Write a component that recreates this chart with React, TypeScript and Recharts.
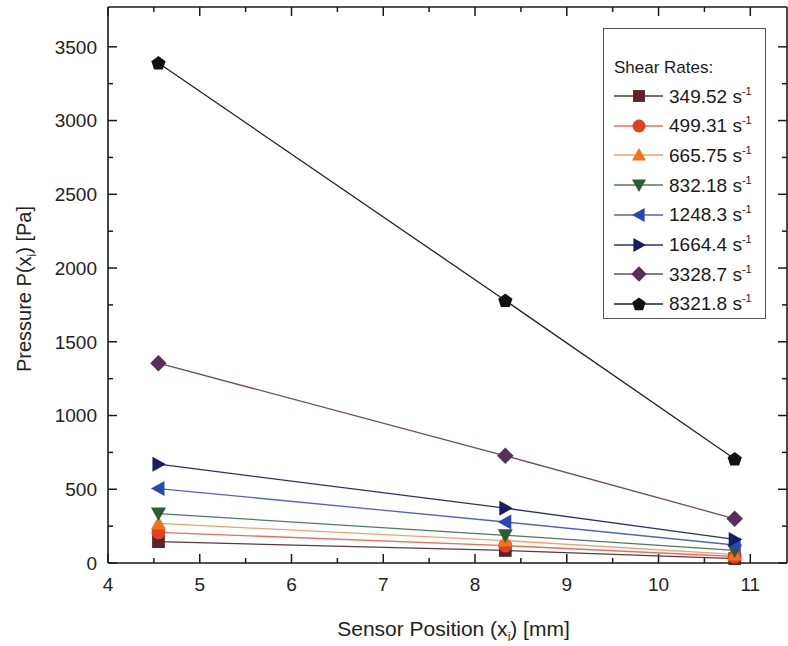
import { LineChart, Line, XAxis, YAxis, ReferenceLine } from "recharts";

const positions = [4.55, 8.33, 10.83];

// pressure [Pa] at each sensor position, one array per shear rate
const rate349 = [145, 85, 30];
const rate499 = [208, 118, 44];
const rate665 = [268, 152, 58];
const rate832 = [335, 188, 85];
const rate1248 = [505, 278, 122];
const rate1664 = [670, 372, 160];
const rate3328 = [1355, 727, 300];
const rate8321 = [3390, 1780, 705];

const rateLabels = ["349.52", "499.31", "665.75", "832.18", "1248.3", "1664.4", "3328.7", "8321.8"];

const xTicks = [4, 4.5, 5, 5.5, 6, 6.5, 7, 7.5, 8, 8.5, 9, 9.5, 10, 10.5, 11];
const yTicks = [0, 250, 500, 750, 1000, 1250, 1500, 1750, 2000, 2250, 2500, 2750, 3000, 3250, 3500];

const X_MIN = 4;
const X_MAX = 11.4;
const Y_MIN = 0;
const Y_MAX = 3770;

const FONT = "'Liberation Sans', Arial, sans-serif";
const AXIS = "#1a1a1a";
// inward tick lengths in data units (about 9px / 5px)
const TX_MAJOR = 61;
const TX_MINOR = 34;
const TY_MAJOR = 0.098;
const TY_MINOR = 0.055;

type Shape = "square" | "circle" | "up" | "down" | "left" | "right" | "diamond" | "pentagon";

const series: { key: string; values: number[]; shape: Shape; fill: string; line: string }[] = [
  { key: "r349", values: rate349, shape: "square", fill: "#5b2426", line: "#5b3a3c" },
  { key: "r499", values: rate499, shape: "circle", fill: "#e2401e", line: "#f06a5a" },
  { key: "r665", values: rate665, shape: "up", fill: "#f2711c", line: "#f2a070" },
  { key: "r832", values: rate832, shape: "down", fill: "#2c5c35", line: "#4c7c5c" },
  { key: "r1248", values: rate1248, shape: "left", fill: "#2847b4", line: "#5462c4" },
  { key: "r1664", values: rate1664, shape: "right", fill: "#181c66", line: "#2c3070" },
  { key: "r3328", values: rate3328, shape: "diamond", fill: "#5a2e5c", line: "#6e4a70" },
  { key: "r8321", values: rate8321, shape: "pentagon", fill: "#111111", line: "#222222" },
];

const data = positions.map((x, i) => {
  const row: Record<string, number> = { x };
  series.forEach((s) => (row[s.key] = s.values[i]));
  return row;
});

function Marker({ cx, cy, shape, fill, r = 7.5 }: { cx: number; cy: number; shape: Shape; fill: string; r?: number }) {
  const pts = (arr: number[][]) => arr.map(([a, b]) => `${cx + a},${cy + b}`).join(" ");
  switch (shape) {
    case "square":
      return <rect x={cx - r * 0.85} y={cy - r * 0.85} width={r * 1.7} height={r * 1.7} fill={fill} />;
    case "circle":
      return <circle cx={cx} cy={cy} r={r * 0.92} fill={fill} />;
    case "up":
      return <polygon points={pts([[0, -r], [r, r * 0.8], [-r, r * 0.8]])} fill={fill} />;
    case "down":
      return <polygon points={pts([[0, r], [r, -r * 0.8], [-r, -r * 0.8]])} fill={fill} />;
    case "left":
      return <polygon points={pts([[-r, 0], [r * 0.8, -r], [r * 0.8, r]])} fill={fill} />;
    case "right":
      return <polygon points={pts([[r, 0], [-r * 0.8, -r], [-r * 0.8, r]])} fill={fill} />;
    case "diamond":
      return <polygon points={pts([[0, -r * 1.1], [r * 1.1, 0], [0, r * 1.1], [-r * 1.1, 0]])} fill={fill} />;
    default: {
      const p = [0, 1, 2, 3, 4].map((k) => {
        const a = -Math.PI / 2 + (k * 2 * Math.PI) / 5;
        return [Math.cos(a) * r, Math.sin(a) * r + 0.5];
      });
      return <polygon points={pts(p)} fill={fill} />;
    }
  }
}

const isMajorX = (v: number) => Number.isInteger(Number(v));
const isMajorY = (v: number) => Number(v) % 500 === 0;

function XTitle(props: any) {
  const vb = props.viewBox;
  return (
    <text x={vb.x + vb.width / 2 + 6} y={vb.y + 73} textAnchor="middle" fontSize={21} fontFamily={FONT} fill="#222">
      Sensor Position (x<tspan fontSize={12} dy={5}>i</tspan>
      <tspan dy={-5}>) [mm]</tspan>
    </text>
  );
}

function YTitle(props: any) {
  const vb = props.viewBox;
  const cx = 31;
  const cy = vb.y + vb.height / 2 + 4;
  return (
    <text
      x={cx}
      y={cy}
      transform={`rotate(-90 ${cx} ${cy})`}
      textAnchor="middle"
      fontSize={20}
      fontFamily={FONT}
      fill="#222"
    >
      Pressure P(x<tspan fontSize={12} dy={5}>i</tspan>
      <tspan dy={-5}>) [Pa]</tspan>
    </text>
  );
}

function LegendBox() {
  return (
    <div
      style={{
        position: "absolute",
        left: 603,
        top: 28,
        width: 163,
        height: 291,
        border: "1.5px solid #555",
        background: "#fff",
        boxSizing: "border-box",
        fontFamily: FONT,
        color: "#1a1a1a",
      }}
    >
      <div style={{ position: "absolute", left: 10, top: 27, fontSize: 17, lineHeight: "24px" }}>Shear Rates:</div>
      {series.map((s, i) => (
        <div
          key={s.key}
          style={{
            position: "absolute",
            left: 8,
            top: 53 + i * 29.7,
            height: 28,
            display: "flex",
            alignItems: "center",
          }}
        >
          <svg width={54} height={28}>
            <line x1={2} x2={51} y1={14} y2={14} stroke={s.line} strokeWidth={1.3} />
            <Marker cx={27} cy={14} shape={s.shape} fill={s.fill} r={7} />
          </svg>
          <span style={{ fontSize: 19, marginLeft: 3, whiteSpace: "nowrap" }}>
            {rateLabels[i]} s<sup style={{ fontSize: 11, verticalAlign: "8px" }}>-1</sup>
          </span>
        </div>
      ))}
    </div>
  );
}

export default function App() {
  const tickStyle = { stroke: AXIS, strokeWidth: 1.5 };
  const labelStyle = { fontSize: 19, fill: "#222", fontFamily: FONT };

  const xTickMarks = xTicks.flatMap((t) => {
    const len = isMajorX(t) ? TX_MAJOR : TX_MINOR;
    return [
      <ReferenceLine key={`b${t}`} segment={[{ x: t, y: Y_MIN }, { x: t, y: Y_MIN + len }]} {...tickStyle} />,
      <ReferenceLine key={`t${t}`} segment={[{ x: t, y: Y_MAX }, { x: t, y: Y_MAX - len }]} {...tickStyle} />,
    ];
  });
  const yTickMarks = yTicks.flatMap((t) => {
    const len = isMajorY(t) ? TY_MAJOR : TY_MINOR;
    return [
      <ReferenceLine key={`l${t}`} segment={[{ x: X_MIN, y: t }, { x: X_MIN + len, y: t }]} {...tickStyle} />,
      <ReferenceLine key={`r${t}`} segment={[{ x: X_MAX, y: t }, { x: X_MAX - len, y: t }]} {...tickStyle} />,
    ];
  });

  return (
    <div style={{ position: "absolute", left: 0, top: 0, width: 788, height: 646, background: "#fff" }}>
      <LineChart width={788} height={646} data={data} margin={{ top: 7, right: 1, left: 0, bottom: 0 }}>
        <XAxis
          dataKey="x"
          type="number"
          domain={[X_MIN, X_MAX]}
          ticks={xTicks}
          height={83}
          stroke={AXIS}
          strokeWidth={1.6}
          tickLine={false}
          tickMargin={9}
          tick={labelStyle}
          tickFormatter={(v: number) => (isMajorX(v) ? String(v) : "")}
          interval={0}
          label={<XTitle />}
        />
        <YAxis
          type="number"
          domain={[Y_MIN, Y_MAX]}
          ticks={yTicks}
          width={108}
          stroke={AXIS}
          strokeWidth={1.6}
          tickLine={false}
          tickMargin={5}
          tick={labelStyle}
          tickFormatter={(v: number) => (isMajorY(v) ? String(v) : "")}
          interval={0}
          label={<YTitle />}
        />

        {/* frame on the top and right edges */}
        <ReferenceLine y={Y_MAX} stroke={AXIS} strokeWidth={1.6} />
        <ReferenceLine x={X_MAX} stroke={AXIS} strokeWidth={1.6} />
        {xTickMarks}
        {yTickMarks}

        {series.map((s) => (
          <Line
            key={s.key}
            dataKey={s.key}
            stroke={s.line}
            strokeWidth={1.3}
            isAnimationActive={false}
            dot={(p: any) => <Marker key={`${s.key}-${p.index}`} cx={p.cx} cy={p.cy} shape={s.shape} fill={s.fill} />}
            activeDot={false}
          />
        ))}
      </LineChart>
      <LegendBox />
    </div>
  );
}
